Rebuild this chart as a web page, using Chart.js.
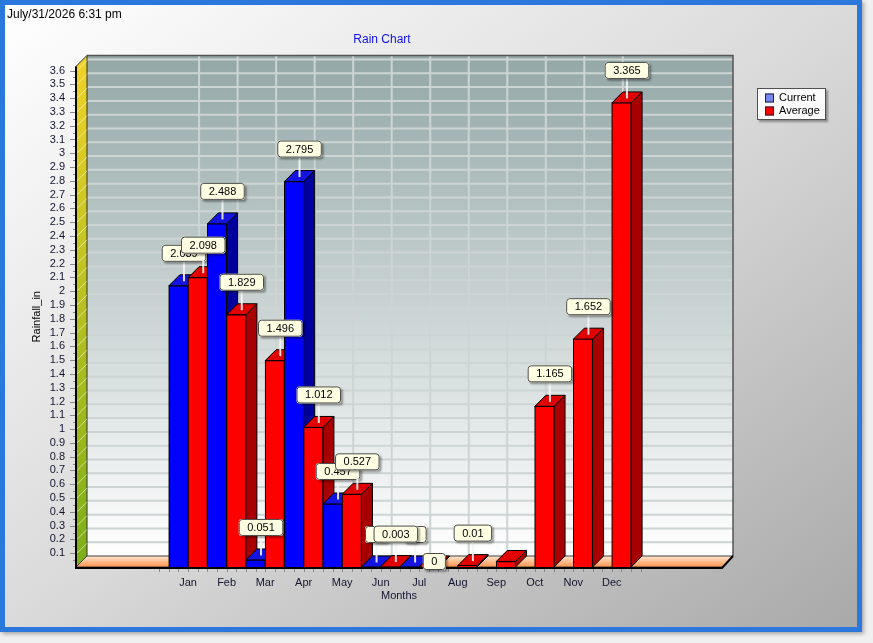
<!DOCTYPE html>
<html>
<head>
<meta charset="utf-8">
<title>Rain Chart</title>
<script src="https://cdn.jsdelivr.net/npm/chart.js@4.4.1/dist/chart.umd.min.js"></script>
<style>
  html, body { margin: 0; padding: 0; background: #f0f0f0; }
  #frame {
    position: absolute; left: 0; top: 0;
    width: 852px; height: 622px;
    border: 5px solid #2b78dc;
    background: linear-gradient(to bottom right, #ffffff 0%, #dadada 50%, #a9a9a9 100%);
    box-shadow: 2px 2px 4px rgba(0,0,0,0.3);
  }
  #chart { position: absolute; left: 0; top: 0; }
</style>
</head>
<body>
<div id="frame"></div>
<canvas id="chart" width="873" height="643"></canvas>
<script>
const months = ['Jan', 'Feb', 'Mar', 'Apr', 'May', 'Jun', 'Jul', 'Aug', 'Sep', 'Oct', 'Nov', 'Dec'];
const currentRain = [2.039, 2.488, 0.051, 2.795, 0.457, 0, 0, null, null, null, null, null];
const averageRain = [2.098, 1.829, 1.496, 1.012, 0.527, 0.003, 0, 0.01, 0.04, 1.165, 1.652, 3.365];
const yTickValues = [0.1, 0.2, 0.3, 0.4, 0.5, 0.6, 0.7, 0.8, 0.9, 1,
                     1.1, 1.2, 1.3, 1.4, 1.5, 1.6, 1.7, 1.8, 1.9, 2,
                     2.1, 2.2, 2.3, 2.4, 2.5, 2.6, 2.7, 2.8, 2.9, 3,
                     3.1, 3.2, 3.3, 3.4, 3.5, 3.6];
const stampText = 'July/31/2026 6:31 pm';

// label quirks seen in the original: Jul average sits on the bar, Sep average has none
const labelOnBar = { 1: [6] };
const labelHidden = { 1: [8] };

const FONT = "'Liberation Sans', Arial, sans-serif";
const D = 11; // depth of the 3d effect

const faces = [
  { side: '#00009c', top: '#1414e0', edge: '#000000' },
  { side: '#a80000', top: '#e00000', edge: '#000000' }
];

function poly(ctx, pts, fill, stroke, lw) {
  ctx.beginPath();
  ctx.moveTo(pts[0][0], pts[0][1]);
  for (let i = 1; i < pts.length; i++) ctx.lineTo(pts[i][0], pts[i][1]);
  ctx.closePath();
  if (fill) { ctx.fillStyle = fill; ctx.fill(); }
  if (stroke) { ctx.strokeStyle = stroke; ctx.lineWidth = lw || 1; ctx.stroke(); }
}

function roundBox(ctx, x, y, w, h, r) {
  ctx.beginPath();
  ctx.moveTo(x + r, y);
  ctx.lineTo(x + w - r, y);
  ctx.quadraticCurveTo(x + w, y, x + w, y + r);
  ctx.lineTo(x + w, y + h - r);
  ctx.quadraticCurveTo(x + w, y + h, x + w - r, y + h);
  ctx.lineTo(x + r, y + h);
  ctx.quadraticCurveTo(x, y + h, x, y + h - r);
  ctx.lineTo(x, y + r);
  ctx.quadraticCurveTo(x, y, x + r, y);
  ctx.closePath();
}

const threeD = {
  id: 'threeD',
  beforeDatasetsDraw(chart) {
    const ctx = chart.ctx;
    const { left: L, right: R, top: T, bottom: B } = chart.chartArea;
    const xs = chart.scales.x, ys = chart.scales.y;
    ctx.save();

    // back wall
    let g = ctx.createLinearGradient(0, T - D, 0, B - D);
    g.addColorStop(0, '#94a7a7');
    g.addColorStop(1, '#ffffff');
    poly(ctx, [[L + D, T - D], [R + D, T - D], [R + D, B - D], [L + D, B - D]], g);
    ctx.strokeStyle = '#cdd4d4';
    ctx.lineWidth = 2;
    yTickValues.forEach(v => {
      const py = ys.getPixelForValue(v) - D;
      ctx.beginPath(); ctx.moveTo(L + D, py); ctx.lineTo(R + D, py); ctx.stroke();
    });
    months.forEach((m, i) => {
      const px = xs.getPixelForValue(i) + D;
      ctx.beginPath(); ctx.moveTo(px, T - D); ctx.lineTo(px, B - D); ctx.stroke();
    });
    ctx.strokeStyle = '#555555';
    ctx.lineWidth = 1.5;
    ctx.beginPath();
    ctx.moveTo(L + D, T - D); ctx.lineTo(R + D, T - D); ctx.lineTo(R + D, B - D);
    ctx.stroke();

    // left wall
    g = ctx.createLinearGradient(0, T, 0, B);
    g.addColorStop(0, '#eed226');
    g.addColorStop(1, '#7cae18');
    poly(ctx, [[L, B], [L, T], [L + D, T - D], [L + D, B - D]], g, '#303030', 1);
    ctx.strokeStyle = 'rgba(255,255,255,0.55)';
    ctx.lineWidth = 1;
    yTickValues.forEach(v => {
      const py = ys.getPixelForValue(v);
      ctx.beginPath(); ctx.moveTo(L + 1, py); ctx.lineTo(L + D, py - D + 1); ctx.stroke();
    });

    // floor
    g = ctx.createLinearGradient(0, B - D, 0, B);
    g.addColorStop(0, '#ffe6d0');
    g.addColorStop(1, '#ff944c');
    poly(ctx, [[L, B], [R, B], [R + D, B - D], [L + D, B - D]], g, '#404040', 1);

    // front edges
    ctx.strokeStyle = '#000000';
    ctx.lineWidth = 2;
    ctx.beginPath(); ctx.moveTo(L, T); ctx.lineTo(L, B + 1); ctx.lineTo(R, B + 1); ctx.lineTo(R + D, B - D); ctx.stroke();

    // tick marks
    ctx.strokeStyle = '#8a8a8a';
    ctx.lineWidth = 1;
    for (let v = 0.05; v < 3.62; v += 0.05) {
      const py = Math.round(ys.getPixelForValue(v)) + 0.5;
      const major = Math.abs(v * 10 - Math.round(v * 10)) < 0.01;
      ctx.beginPath(); ctx.moveTo(L - (major ? 6 : 3), py); ctx.lineTo(L - 1, py); ctx.stroke();
    }
    for (let k = -3; k <= 47; k++) {
      const px = Math.round(xs.getPixelForValue(k / 4)) + 0.5;
      ctx.beginPath(); ctx.moveTo(px, B + 2); ctx.lineTo(px, B + 5); ctx.stroke();
    }
    ctx.restore();
  },

  afterDatasetsDraw(chart) {
    const ctx = chart.ctx;
    const sets = chart.data.datasets;
    const metas = sets.map((s, d) => chart.getDatasetMeta(d));
    ctx.save();
    // bars left to right so the fronts cover the sides of the bars before them
    for (let i = 0; i < months.length; i++) {
      metas.forEach((meta, d) => {
        if (sets[d].data[i].y == null) return;
        const bar = meta.data[i];
        const p = bar.getProps(['x', 'y', 'base', 'width'], true);
        const x1 = p.x - p.width / 2, x2 = p.x + p.width / 2;
        const f = faces[d];
        poly(ctx, [[x2, p.y], [x2 + D, p.y - D], [x2 + D, p.base - D], [x2, p.base]], f.side, f.edge, 1);
        poly(ctx, [[x1, p.y], [x2, p.y], [x2 + D, p.y - D], [x1 + D, p.y - D]], f.top, f.edge, 1);
        bar.draw(ctx);
      });
    }

    // value labels, one series after the other
    ctx.font = '11px ' + FONT;
    ctx.textAlign = 'center';
    ctx.textBaseline = 'middle';
    metas.forEach((meta, d) => {
      months.forEach((m, i) => {
        const v = sets[d].data[i].y;
        if (v == null || (labelHidden[d] || []).includes(i)) return;
        const p = meta.data[i].getProps(['x', 'y'], true);
        const txt = String(v);
        const w = ctx.measureText(txt).width + 17, h = 17;
        const cx = p.x + D / 2;
        const onBar = (labelOnBar[d] || []).includes(i);
        const cy = onBar ? p.y - D / 2 : p.y - D - 13 - h / 2;
        if (!onBar) {
          ctx.strokeStyle = 'rgba(245,245,245,0.9)';
          ctx.lineWidth = 2;
          ctx.beginPath(); ctx.moveTo(cx, p.y - D / 2 + 1); ctx.lineTo(cx, cy + h / 2); ctx.stroke();
        }
        ctx.save();
        ctx.shadowColor = 'rgba(0,0,0,0.35)';
        ctx.shadowOffsetX = 2; ctx.shadowOffsetY = 2; ctx.shadowBlur = 2;
        roundBox(ctx, cx - w / 2, cy - h / 2, w, h, 3);
        ctx.fillStyle = '#ffffe4';
        ctx.fill();
        ctx.restore();
        roundBox(ctx, cx - w / 2 + 0.5, cy - h / 2 + 0.5, w - 1, h - 1, 3);
        ctx.strokeStyle = '#4a4a4a';
        ctx.lineWidth = 1;
        ctx.stroke();
        ctx.fillStyle = '#000000';
        ctx.fillText(txt, cx, cy + 0.5);
      });
    });
    ctx.restore();
  },

  afterDraw(chart) {
    const ctx = chart.ctx;
    ctx.save();
    ctx.textBaseline = 'middle';
    ctx.font = '12px ' + FONT;
    ctx.fillStyle = '#000000';
    ctx.textAlign = 'left';
    ctx.fillText(stampText, 7, 15);
    ctx.fillStyle = '#1010f0';
    ctx.textAlign = 'center';
    ctx.fillText('Rain Chart', 382, 40);

    // legend
    ctx.save();
    ctx.shadowColor = 'rgba(0,0,0,0.35)';
    ctx.shadowOffsetX = 2; ctx.shadowOffsetY = 2; ctx.shadowBlur = 2;
    ctx.fillStyle = '#fafafa';
    ctx.fillRect(757, 88, 69, 32);
    ctx.restore();
    ctx.strokeStyle = '#505050';
    ctx.lineWidth = 1;
    ctx.strokeRect(757.5, 88.5, 68, 31);
    const marks = ['#7686ee', '#ff0000'];
    ctx.font = '11px ' + FONT;
    ctx.textAlign = 'left';
    chart.data.datasets.forEach((s, d) => {
      const yy = 98 + d * 13;
      ctx.fillStyle = marks[d];
      ctx.fillRect(765, yy - 4.5, 9, 9);
      ctx.strokeStyle = '#202040';
      ctx.strokeRect(765.5, yy - 4, 8, 8);
      ctx.fillStyle = '#000000';
      ctx.fillText(s.label, 779, yy);
    });
    ctx.restore();
  }
};

const tickFont = { family: FONT, size: 11 };

new Chart(document.getElementById('chart'), {
  type: 'bar',
  data: {
    datasets: [{
      label: 'Current',
      data: months.map((m, i) => ({ x: i, y: currentRain[i] })),
      backgroundColor: '#0000ff',
      borderColor: '#000000',
      borderWidth: 1
    }, {
      label: 'Average',
      data: months.map((m, i) => ({ x: i, y: averageRain[i] })),
      backgroundColor: '#ff0000',
      borderColor: '#000000',
      borderWidth: 1
    }]
  },
  options: {
    responsive: false,
    animation: false,
    events: [],
    categoryPercentage: 1,
    barPercentage: 1,
    layout: { padding: { left: 24, top: 66.4, right: 151, bottom: 36 } },
    plugins: {
      legend: { display: false },
      title: { display: false },
      tooltip: { enabled: false }
    },
    scales: {
      x: {
        type: 'linear',
        offset: false,
        min: -2.91,
        max: 13.86,
        grid: { display: false, drawTicks: false },
        border: { display: false },
        afterBuildTicks: s => { s.ticks = months.map((m, i) => ({ value: i })); },
        afterFit: s => { s.height = 40; },
        ticks: {
          callback: v => months[v],
          autoSkip: false,
          maxRotation: 0,
          padding: 9,
          color: '#141430',
          font: tickFont
        },
        title: { display: true, text: 'Months', color: '#141430', font: tickFont, padding: { top: 0, bottom: 4 } }
      },
      y: {
        min: 0,
        max: 3.63,
        grid: { display: false, drawTicks: false },
        border: { display: false },
        afterBuildTicks: s => { s.ticks = yTickValues.map(v => ({ value: v })); },
        afterFit: s => { s.width = 52; },
        ticks: {
          callback: v => String(v),
          autoSkip: false,
          padding: 11,
          color: '#141430',
          font: tickFont
        },
        title: { display: true, text: 'Rainfall_in', color: '#000000', font: tickFont, padding: { top: 6, bottom: 0 } }
      }
    }
  },
  plugins: [threeD]
});
</script>
</body>
</html>
